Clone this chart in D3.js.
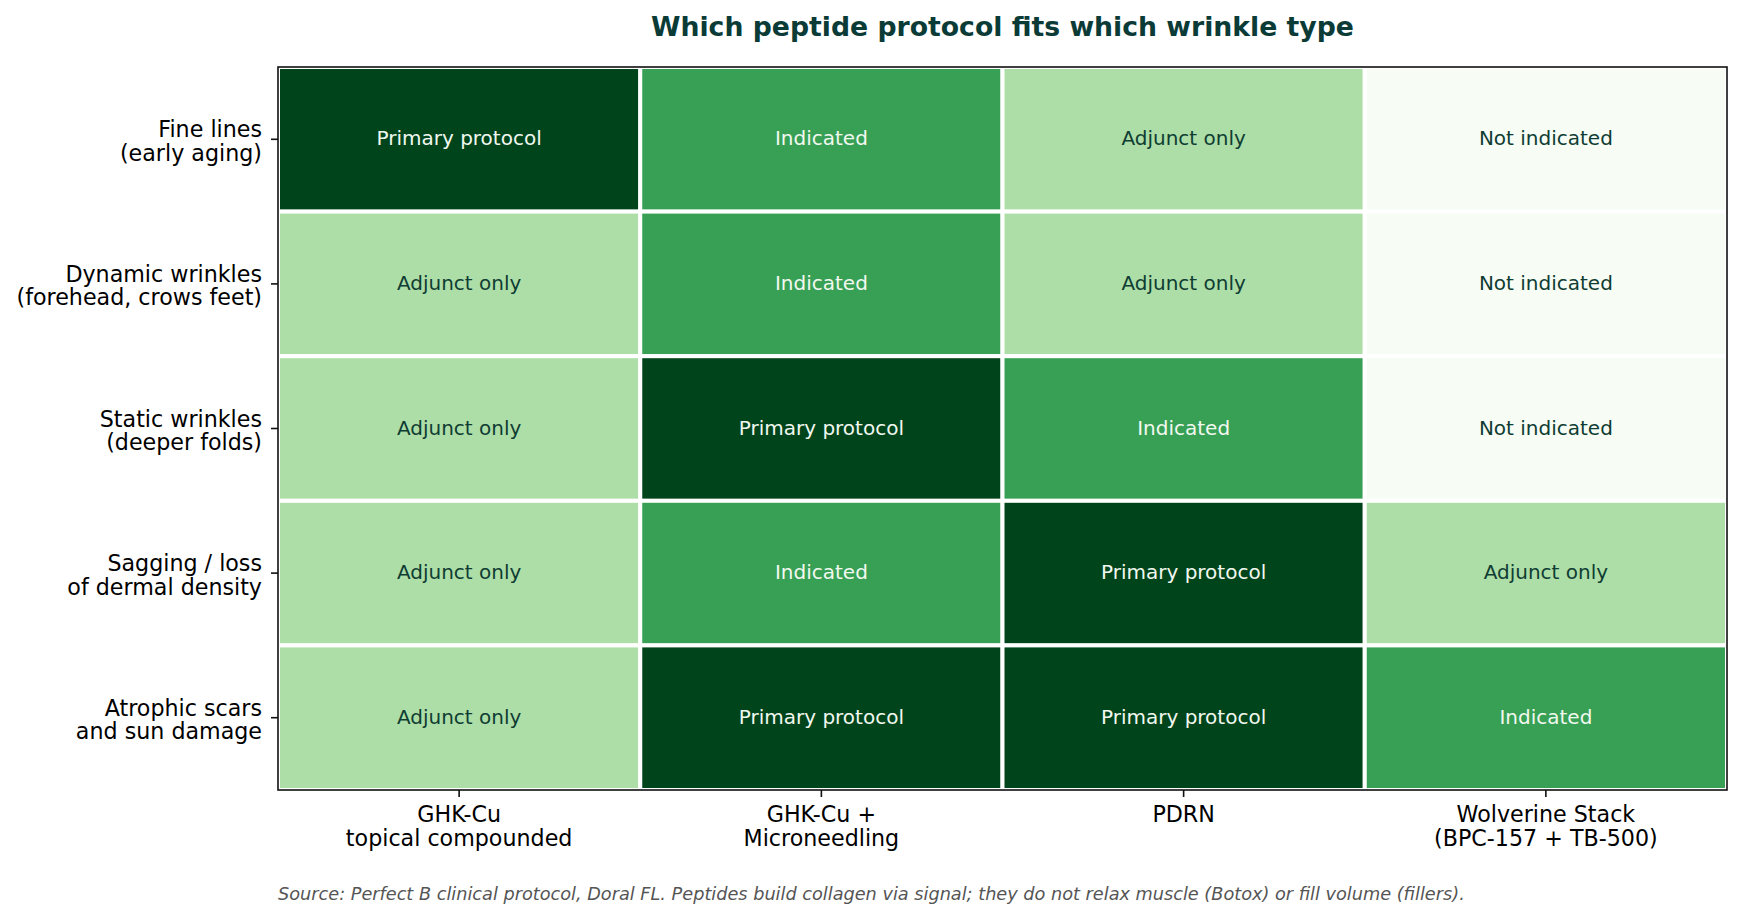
<!DOCTYPE html>
<html>
<head>
<meta charset="utf-8">
<script src="https://cdn.jsdelivr.net/npm/d3@7"></script>
<style>
  body { margin: 0; background: #fff; }
  text { font-family: "DejaVu Sans", sans-serif; }
</style>
</head>
<body>
<script>
// wrinkle types (rows) and protocols (columns)
var wrinkles = [
  ["Fine lines", "(early aging)"],
  ["Dynamic wrinkles", "(forehead, crows feet)"],
  ["Static wrinkles", "(deeper folds)"],
  ["Sagging / loss", "of dermal density"],
  ["Atrophic scars", "and sun damage"]
];
var protocols = [
  ["GHK-Cu", "topical compounded"],
  ["GHK-Cu +", "Microneedling"],
  ["PDRN"],
  ["Wolverine Stack", "(BPC-157 + TB-500)"]
];
var levelNames = ["Not indicated", "Adjunct only", "Indicated", "Primary protocol"];
// fit level per row, one value per protocol
var fineLines = [3, 2, 1, 0];
var dynamicWrinkles = [1, 2, 1, 0];
var staticWrinkles = [1, 3, 2, 0];
var sagging = [1, 2, 3, 1];
var atrophicScars = [1, 3, 3, 2];
var levels = [fineLines, dynamicWrinkles, staticWrinkles, sagging, atrophicScars];

var titleText = "Which peptide protocol fits which wrinkle type";
var sourceText = "Source: Perfect B clinical protocol, Doral FL. Peptides build collagen via signal; they do not relax muscle (Botox) or fill volume (fillers).";

var W = 1744, H = 921;
var margin = {top: 67, right: 17, bottom: 131, left: 278};
var width = W - margin.left - margin.right,
    height = H - margin.top - margin.bottom;

// flatten into cells
var cells = [];
levels.forEach(function(row, i) {
  row.forEach(function(v, j) {
    cells.push({row: i, col: j, level: v});
  });
});

var x = d3.scaleBand().domain(d3.range(protocols.length)).range([0, width]);
var y = d3.scaleBand().domain(d3.range(wrinkles.length)).range([0, height]);
var color = d3.scaleOrdinal().domain([0, 1, 2, 3])
  .range(["#f7fcf5", "#aedea7", "#37a055", "#00441b"]);

var svg = d3.select("body").append("svg")
  .attr("width", W)
  .attr("height", H);

svg.append("text")
  .attr("x", margin.left + width / 2)
  .attr("y", 36)
  .attr("text-anchor", "middle")
  .style("font-size", "26.7px")
  .style("font-weight", "bold")
  .style("fill", "#0b3b36")
  .text(titleText);

var g = svg.append("g")
  .attr("transform", "translate(" + margin.left + "," + margin.top + ")");

// heat cells
g.selectAll("rect.cell").data(cells).enter().append("rect")
  .attr("class", "cell")
  .attr("x", function(d) { return x(d.col); })
  .attr("y", function(d) { return y(d.row); })
  .attr("width", x.bandwidth())
  .attr("height", y.bandwidth())
  .attr("fill", function(d) { return color(d.level); })
  .attr("stroke", "#fff")
  .attr("stroke-width", 4);

// cell labels
g.selectAll("text.lbl").data(cells).enter().append("text")
  .attr("class", "lbl")
  .attr("x", function(d) { return x(d.col) + x.bandwidth() / 2; })
  .attr("y", function(d) { return y(d.row) + y.bandwidth() / 2; })
  .attr("dy", "0.3em")
  .attr("text-anchor", "middle")
  .style("font-size", "20px")
  .style("fill", function(d) { return d.level >= 2 ? "#f1f8ef" : "#0f3d33"; })
  .text(function(d) { return levelNames[d.level]; });

// frame
g.append("rect")
  .attr("width", width)
  .attr("height", height)
  .attr("fill", "none")
  .attr("stroke", "#111")
  .attr("stroke-width", 1.6);

// x axis
var xAxis = g.append("g")
  .attr("transform", "translate(0," + height + ")")
  .call(d3.axisBottom(x).tickSize(7).tickFormat(""));
xAxis.select(".domain").remove();
xAxis.selectAll(".tick line").attr("stroke", "#111").attr("stroke-width", 1.6);
xAxis.selectAll(".tick").append("text")
  .attr("fill", "#000")
  .attr("text-anchor", "middle")
  .style("font-size", "22.2px")
  .selectAll("tspan")
  .data(function(d) { return protocols[d]; })
  .enter().append("tspan")
  .attr("x", 0)
  .attr("y", function(d, i) { return 32 + i * 24; })
  .text(function(d) { return d; });

// y axis
var yAxis = g.append("g")
  .call(d3.axisLeft(y).tickSize(7).tickFormat(""));
yAxis.select(".domain").remove();
yAxis.selectAll(".tick line").attr("stroke", "#111").attr("stroke-width", 1.6);
yAxis.selectAll(".tick").append("text")
  .attr("fill", "#000")
  .attr("text-anchor", "end")
  .style("font-size", "22.2px")
  .selectAll("tspan")
  .data(function(d) { return wrinkles[d]; })
  .enter().append("tspan")
  .attr("x", -16)
  .attr("y", function(d, i) { return -2 + i * 23.5; })
  .text(function(d) { return d; });

svg.append("text")
  .attr("x", margin.left)
  .attr("y", 900)
  .style("font-size", "17.7px")
  .style("font-style", "italic")
  .style("fill", "#555")
  .text(sourceText);
</script>
</body>
</html>
